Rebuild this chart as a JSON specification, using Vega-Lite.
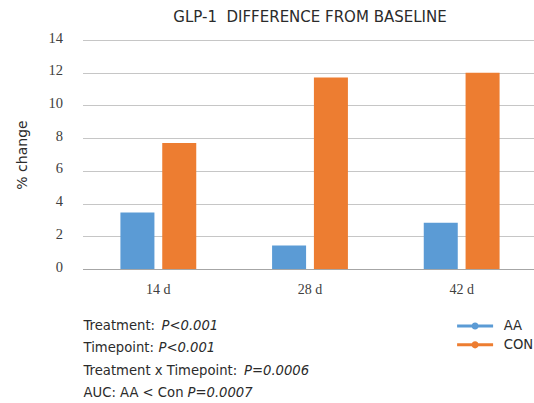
{
  "$schema": "https://vega.github.io/schema/vega-lite/v6.json",
  "padding": {"left": 14.5, "top": 10, "right": 0, "bottom": 0},
  "background": "white",
  "spacing": 18.5,
  "config": {"view": {"stroke": null}},
  "resolve": {"scale": {"x": "independent", "y": "independent"}},
  "vconcat": [
    {
      "width": 455,
      "height": 229,
      "title": {"text": "GLP-1\u00a0 DIFFERENCE FROM BASELINE", "font": "DejaVu Sans", "fontSize": 15, "fontWeight": "normal", "color": "#2b2b2b", "anchor": "middle", "frame": "group", "offset": 5},
      "data": {"values": [
        {"time": "14 d", "group": "AA", "value": 3.45},
        {"time": "14 d", "group": "CON", "value": 7.7},
        {"time": "28 d", "group": "AA", "value": 1.44},
        {"time": "28 d", "group": "CON", "value": 11.7},
        {"time": "42 d", "group": "AA", "value": 2.82},
        {"time": "42 d", "group": "CON", "value": 12.0}
      ]},
      "mark": {"type": "bar"},
      "encoding": {
        "x": {"field": "time", "type": "nominal", "sort": ["14 d", "28 d", "42 d"],
          "scale": {"paddingInner": 0.5, "paddingOuter": 0.25},
          "axis": {"title": null, "labelAngle": 0, "ticks": false, "domainColor": "#a6a6a6", "labelFont": "Liberation Serif", "labelFontSize": 14, "labelColor": "#404040", "labelPadding": 13}},
        "xOffset": {"field": "group", "type": "nominal", "sort": ["AA", "CON"], "scale": {"paddingInner": 0.187, "paddingOuter": 0}},
        "y": {"field": "value", "type": "quantitative", "scale": {"domain": [0, 14]},
          "axis": {"values": [0, 2, 4, 6, 8, 10, 12, 14], "title": "% change", "titleFont": "DejaVu Sans", "titleFontSize": 14, "titleFontWeight": "normal", "titleColor": "#2b2b2b", "titlePadding": 19, "domain": false, "ticks": false, "gridColor": "#c6c6c6", "labelFont": "Liberation Serif", "labelFontSize": 14.5, "labelColor": "#404040", "labelPadding": 20, "labelOffset": -2}},
        "color": {"field": "group", "type": "nominal",
          "scale": {"domain": ["AA", "CON"], "range": ["#5b9bd5", "#ed7d31"]},
          "legend": {"title": null, "orient": "none", "legendX": 386, "legendY": 279.4,
            "symbolType": "M -3 -0.25 L 3 -0.25 L 3 0.25 L -3 0.25 Z M 0.6 0 A 0.6 0.6 0 1 1 -0.6 0 A 0.6 0.6 0 1 1 0.6 0 Z",
            "symbolSize": 144, "symbolStrokeWidth": 0, "labelFont": "DejaVu Sans", "labelFontSize": 13.2, "labelColor": "#2b2b2b", "labelOffset": 22, "rowPadding": 4.8}}
      }
    },
    {
      "width": 455,
      "height": 89.6,
      "data": {"values": [
        {"row": 1, "label": "Treatment:", "p": "P<0.001"},
        {"row": 2, "label": "Timepoint:", "p": "P<0.001"},
        {"row": 3, "label": "Treatment x Timepoint:", "p": "P=0.0006"},
        {"row": 4, "label": "AUC: AA < Con", "p": "P=0.0007"}
      ]},
      "encoding": {
        "y": {"field": "row", "type": "ordinal", "axis": null},
        "x": {"datum": 0, "type": "quantitative", "scale": {"domain": [0, 1]}, "axis": null}
      },
      "layer": [
        {"mark": {"type": "text", "align": "left", "baseline": "middle", "font": "DejaVu Sans", "fontSize": 13.2, "color": "#2b2b2b", "dx": 1},
         "encoding": {"text": {"field": "label"}}},
        {"transform": [{"filter": "datum.row == 1"}],
         "mark": {"type": "text", "align": "left", "baseline": "middle", "font": "DejaVu Sans", "fontSize": 13.2, "fontStyle": "italic", "color": "#2b2b2b", "dx": 79},
         "encoding": {"text": {"field": "p"}}},
        {"transform": [{"filter": "datum.row == 2"}],
         "mark": {"type": "text", "align": "left", "baseline": "middle", "font": "DejaVu Sans", "fontSize": 13.2, "fontStyle": "italic", "color": "#2b2b2b", "dx": 76},
         "encoding": {"text": {"field": "p"}}},
        {"transform": [{"filter": "datum.row == 3"}],
         "mark": {"type": "text", "align": "left", "baseline": "middle", "font": "DejaVu Sans", "fontSize": 13.2, "fontStyle": "italic", "color": "#2b2b2b", "dx": 161.5},
         "encoding": {"text": {"field": "p"}}},
        {"transform": [{"filter": "datum.row == 4"}],
         "mark": {"type": "text", "align": "left", "baseline": "middle", "font": "DejaVu Sans", "fontSize": 13.2, "fontStyle": "italic", "color": "#2b2b2b", "dx": 105},
         "encoding": {"text": {"field": "p"}}}
      ]
    }
  ]
}
